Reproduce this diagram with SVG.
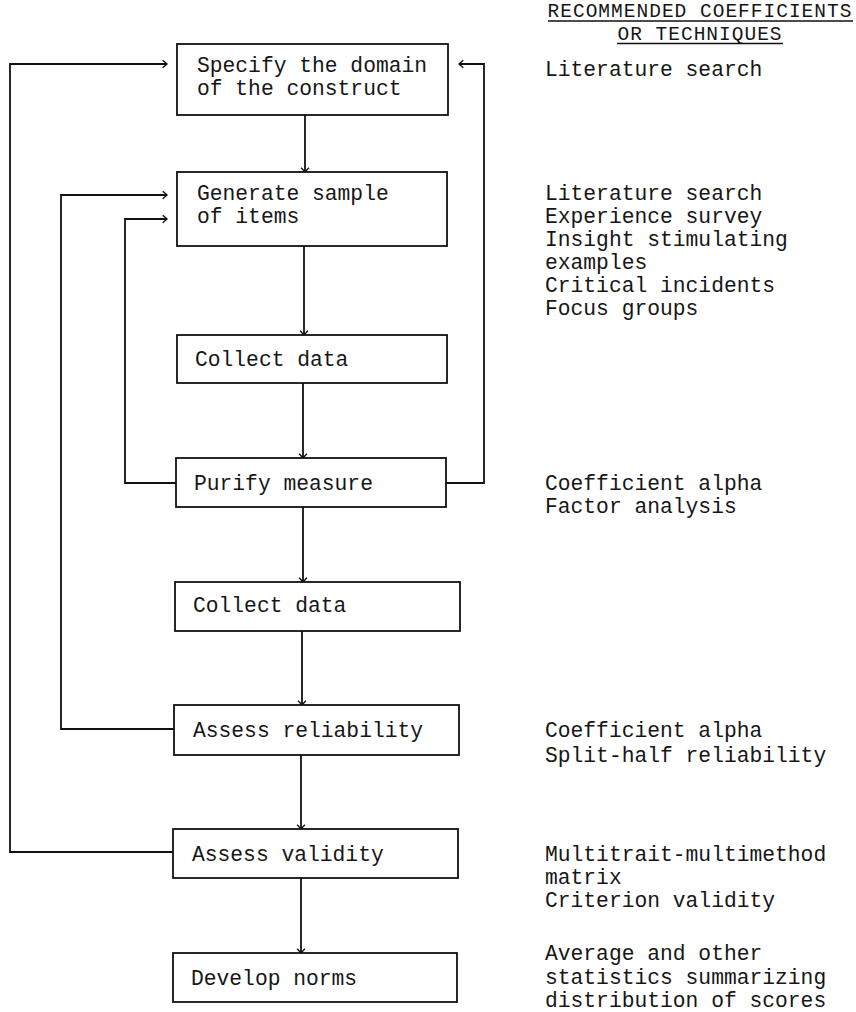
<svg xmlns="http://www.w3.org/2000/svg" width="856" height="1012" viewBox="0 0 856 1012">
  <style>
    .box { fill: #ffffff; stroke: #111111; stroke-width: 1.8; }
    .lbl { font-family: "Liberation Mono", "Courier New", monospace; font-size: 21.3px; fill: #161616; }
    .head { font-family: "Liberation Mono", "Courier New", monospace; font-size: 19.5px; letter-spacing: 1px; fill: #161616; }
    .wire { fill: none; stroke: #111111; stroke-width: 1.8; }
    .ul { stroke: #111111; stroke-width: 1.6; }
  </style>
  <defs>
    <marker id="chev" markerWidth="12" markerHeight="12" refX="0" refY="0" viewBox="-7 -7 14 14" orient="auto" markerUnits="userSpaceOnUse">
      <path d="M -5 -4.5 L 0 0 L -5 4.5" fill="none" stroke="#111111" stroke-width="1.6"/>
    </marker>
  </defs>
  <rect width="856" height="1012" fill="#ffffff"/>

  <!-- column heading -->
  <g id="heading">
    <text class="head" x="700" y="17" text-anchor="middle">RECOMMENDED COEFFICIENTS</text>
    <line class="ul" x1="548" y1="21" x2="853" y2="21"/>
    <text class="head" x="700" y="39.5" text-anchor="middle">OR TECHNIQUES</text>
    <line class="ul" x1="617" y1="43.5" x2="783" y2="43.5"/>
  </g>

  <!-- connectors -->
  <g id="connectors">
    <!-- main downward flow -->
    <line class="wire" x1="305" y1="115" x2="305" y2="172" marker-end="url(#chev)"/>
    <line class="wire" x1="304" y1="246" x2="304" y2="335" marker-end="url(#chev)"/>
    <line class="wire" x1="303" y1="383" x2="303" y2="458" marker-end="url(#chev)"/>
    <line class="wire" x1="303" y1="507" x2="303" y2="582" marker-end="url(#chev)"/>
    <line class="wire" x1="302" y1="631" x2="302" y2="705" marker-end="url(#chev)"/>
    <line class="wire" x1="301" y1="755" x2="301" y2="829" marker-end="url(#chev)"/>
    <line class="wire" x1="301" y1="878" x2="301" y2="953" marker-end="url(#chev)"/>
    <!-- feedback loops -->
    <polyline class="wire" points="173,852 10,852 10,64 167,64" marker-end="url(#chev)"/>
    <polyline class="wire" points="174,729 61,729 61,195 167,195" marker-end="url(#chev)"/>
    <polyline class="wire" points="176,483 125,483 125,219 167,219" marker-end="url(#chev)"/>
    <polyline class="wire" points="446,483 484,483 484,64 459,64" marker-end="url(#chev)"/>
  </g>

  <!-- process steps -->
  <g id="step-domain">
    <rect class="box" x="177" y="44" width="271" height="71"/>
    <text class="lbl" x="197" y="72">Specify the domain</text>
    <text class="lbl" x="197" y="95">of the construct</text>
  </g>
  <g id="step-sample">
    <rect class="box" x="177" y="172" width="270" height="74"/>
    <text class="lbl" x="197" y="200">Generate sample</text>
    <text class="lbl" x="197" y="223">of items</text>
  </g>
  <g id="step-collect-1">
    <rect class="box" x="177" y="335" width="270" height="48"/>
    <text class="lbl" x="195" y="366">Collect data</text>
  </g>
  <g id="step-purify">
    <rect class="box" x="176" y="458" width="270" height="49"/>
    <text class="lbl" x="194" y="490">Purify measure</text>
  </g>
  <g id="step-collect-2">
    <rect class="box" x="175" y="582" width="285" height="49"/>
    <text class="lbl" x="193" y="612">Collect data</text>
  </g>
  <g id="step-reliability">
    <rect class="box" x="174" y="705" width="285" height="50"/>
    <text class="lbl" x="193" y="737">Assess reliability</text>
  </g>
  <g id="step-validity">
    <rect class="box" x="173" y="829" width="285" height="49"/>
    <text class="lbl" x="192" y="861">Assess validity</text>
  </g>
  <g id="step-norms">
    <rect class="box" x="173" y="953" width="284" height="49"/>
    <text class="lbl" x="191" y="985">Develop norms</text>
  </g>

  <!-- recommended techniques -->
  <g id="tech-domain">
    <text class="lbl" x="545" y="76">Literature search</text>
  </g>
  <g id="tech-sample">
    <text class="lbl" x="545" y="200">Literature search</text>
    <text class="lbl" x="545" y="223">Experience survey</text>
    <text class="lbl" x="545" y="246">Insight stimulating</text>
    <text class="lbl" x="545" y="269">examples</text>
    <text class="lbl" x="545" y="292">Critical incidents</text>
    <text class="lbl" x="545" y="315">Focus groups</text>
  </g>
  <g id="tech-purify">
    <text class="lbl" x="545" y="490">Coefficient alpha</text>
    <text class="lbl" x="545" y="513">Factor analysis</text>
  </g>
  <g id="tech-reliability">
    <text class="lbl" x="545" y="737">Coefficient alpha</text>
    <text class="lbl" x="545" y="762">Split-half reliability</text>
  </g>
  <g id="tech-validity">
    <text class="lbl" x="545" y="861">Multitrait-multimethod</text>
    <text class="lbl" x="545" y="884">matrix</text>
    <text class="lbl" x="545" y="907">Criterion validity</text>
  </g>
  <g id="tech-norms">
    <text class="lbl" x="545" y="960">Average and other</text>
    <text class="lbl" x="545" y="984">statistics summarizing</text>
    <text class="lbl" x="545" y="1007">distribution of scores</text>
  </g>
</svg>
